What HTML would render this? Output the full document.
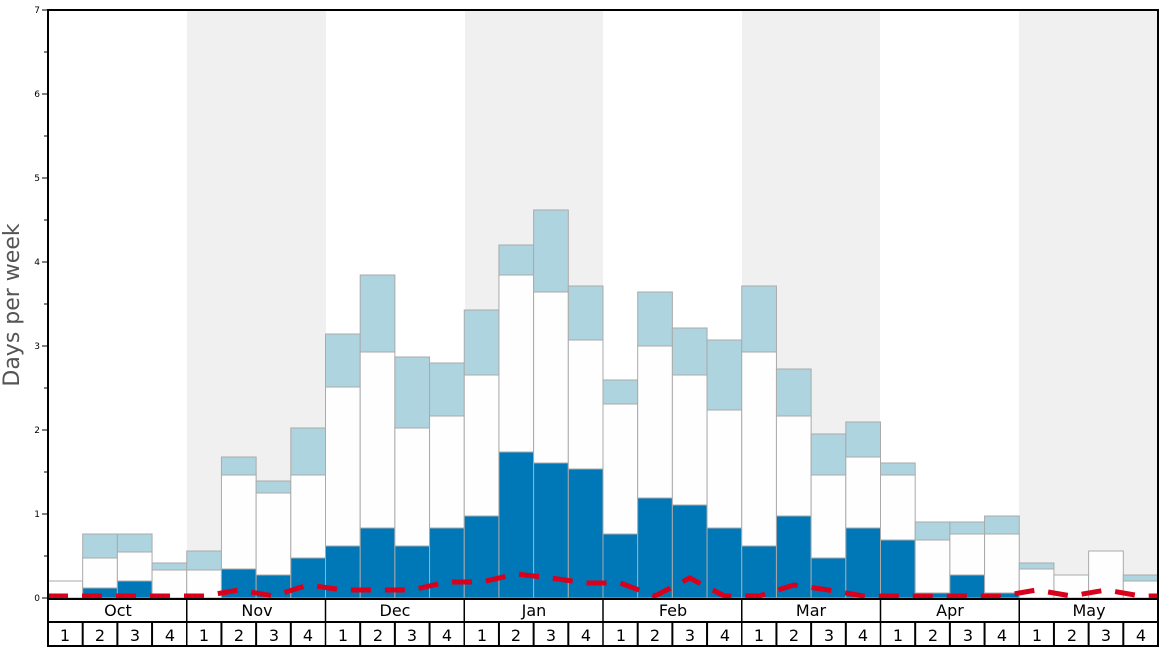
<!DOCTYPE html>
<html><head><meta charset="utf-8">
<style>
html,body{margin:0;padding:0;background:#fff;}
svg{display:block;font-family:"DejaVu Sans","Liberation Sans",sans-serif;}
</style></head>
<body>
<svg id="s" width="1168" height="648" viewBox="0 0 1168 648" xmlns="http://www.w3.org/2000/svg">
<rect x="0" y="0" width="1168" height="648" fill="#fff"/>
<g id="bg">
<rect x="187" y="10" width="139" height="588" fill="#f0f0f0"/>
<rect x="465" y="10" width="138" height="588" fill="#f0f0f0"/>
<rect x="742" y="10" width="138" height="588" fill="#f0f0f0"/>
<rect x="1019" y="10" width="139" height="588" fill="#f0f0f0"/>
</g>
<g id="bars"></g>
<polyline id="red" fill="none" stroke="#d9001b" stroke-width="5" stroke-dasharray="20,14" points=""/>
<rect x="48" y="10" width="1110" height="636" fill="none" stroke="#000" stroke-width="2"/>
<g id="ticks" stroke="#000" stroke-width="1"></g>
<g font-size="9" text-anchor="end" fill="#000">
<text x="40" y="601">0</text><text x="40" y="517">1</text><text x="40" y="433">2</text><text x="40" y="349">3</text><text x="40" y="265">4</text><text x="40" y="181">5</text><text x="40" y="97">6</text><text x="40" y="13">7</text>
</g>
<text transform="translate(19,305) rotate(-90)" font-size="22" fill="#555" text-anchor="middle">Days per week</text>
<g stroke="#000" stroke-width="2" id="axlines">
<line x1="48" y1="599" x2="1158" y2="599"/>
<line x1="48" y1="622" x2="1158" y2="622"/>
</g>
<g font-size="16" text-anchor="middle" fill="#000">
<text x="118" y="616">Oct</text><text x="257" y="616">Nov</text><text x="395" y="616">Dec</text><text x="534" y="616">Jan</text><text x="673" y="616">Feb</text><text x="811" y="616">Mar</text><text x="950" y="616">Apr</text><text x="1089" y="616">May</text>
</g>
<g font-size="16" text-anchor="middle" fill="#000">
<text x="65" y="641">1</text><text x="100" y="641">2</text><text x="135" y="641">3</text><text x="170" y="641">4</text>
<text x="204" y="641">1</text><text x="239" y="641">2</text><text x="274" y="641">3</text><text x="308" y="641">4</text>
<text x="343" y="641">1</text><text x="378" y="641">2</text><text x="412" y="641">3</text><text x="447" y="641">4</text>
<text x="482" y="641">1</text><text x="516" y="641">2</text><text x="551" y="641">3</text><text x="586" y="641">4</text>
<text x="621" y="641">1</text><text x="655" y="641">2</text><text x="690" y="641">3</text><text x="725" y="641">4</text>
<text x="759" y="641">1</text><text x="794" y="641">2</text><text x="829" y="641">3</text><text x="863" y="641">4</text>
<text x="898" y="641">1</text><text x="933" y="641">2</text><text x="968" y="641">3</text><text x="1002" y="641">4</text>
<text x="1037" y="641">1</text><text x="1072" y="641">2</text><text x="1106" y="641">3</text><text x="1141" y="641">4</text>
</g>
<script>
var d=[[598,581,581],[588,558,534],[581,552,534],[598,570,563],[598,570,551],[569,475,457],[575,493,481],[558,475,428],
[546,387,334],[528,352,275],[546,428,357],[528,416,363],[516,375,310],[452,275,245],[463,292,210],[469,340,286],
[534,404,380],[498,346,292],[505,375,328],[528,410,340],[546,352,286],[516,416,369],[558,475,434],[528,457,422],
[540,475,463],[593,540,522],[575,534,522],[593,534,516],[598,569,563],[598,575,575],[598,551,551],[598,581,575]];
var red=[596,596,596,596,596,590,596,585,590,590,590,582,582,574,578,583,583,596,578,596,596,585,590,596,596,596,596,596,590,596,590,596];
var w=1110/32,ns="http://www.w3.org/2000/svg",g=document.getElementById('bars');
function r(x,y,h,f){if(h<=0)return;var e=document.createElementNS(ns,'rect');e.setAttribute('x',x);e.setAttribute('y',y);e.setAttribute('width',w);e.setAttribute('height',h);e.setAttribute('fill',f);e.setAttribute('stroke','#aaa');e.setAttribute('stroke-width','1');g.appendChild(e);}
var pts=["48,596"];
for(var i=0;i<32;i++){var x=48+i*w,a=d[i];r(x,a[2],a[1]-a[2],'#aed4e0');r(x,a[1],a[0]-a[1],'#fefefe');r(x,a[0],598-a[0],'#0077b6');pts.push((x+w/2).toFixed(1)+","+red[i]);}
pts.push("1158,596");
document.getElementById('red').setAttribute('points',pts.join(' '));
var t=document.getElementById('ticks'),ax=document.getElementById('axlines');
for(var k=0;k<=14;k++){var y=598-k*42,e=document.createElementNS(ns,'line');e.setAttribute('x1',k%2?44:42);e.setAttribute('x2',48);e.setAttribute('y1',y);e.setAttribute('y2',y);t.appendChild(e);}
for(var i=1;i<32;i++){var x=48+i*w,e=document.createElementNS(ns,'line');e.setAttribute('x1',x);e.setAttribute('x2',x);e.setAttribute('y1',i%4?622:599);e.setAttribute('y2',646);e.setAttribute('stroke-width',i%4?2:1.5);ax.appendChild(e);}
</script>
</svg>
</body></html>
